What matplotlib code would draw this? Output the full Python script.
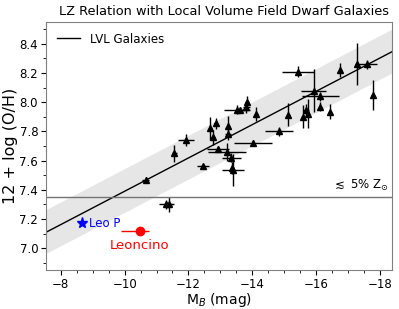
import numpy as np
import matplotlib.pyplot as plt
from matplotlib.ticker import MultipleLocator

# LVL galaxies: M_B, 12+log(O/H) and errors
mb = [-10.66, -11.55, -11.91, -12.46, -11.29, -11.39, -12.69, -12.77, -12.86,
      -12.93, -13.25, -13.24, -13.21, -13.35, -13.37, -13.40, -13.52, -13.63,
      -13.82, -13.85, -14.13, -14.03, -14.84, -15.13, -15.43, -15.58, -15.68,
      -15.75, -15.93, -16.14, -16.14, -16.43, -16.77, -17.28, -17.60, -17.78]
oh = [7.47, 7.65, 7.74, 7.56, 7.30, 7.30, 7.82, 7.76, 7.855,
      7.68, 7.835, 7.78, 7.66, 7.62, 7.55, 7.535, 7.95, 7.95,
      7.965, 8.00, 7.92, 7.72, 7.80, 7.915, 8.21, 7.90, 7.95,
      7.92, 8.08, 8.04, 7.97, 7.935, 8.22, 8.26, 8.26, 8.05]
mb_err = [0.10, 0.08, 0.25, 0.20, 0.20, 0.15, 0.05, 0.05, 0.05,
          0.35, 0.05, 0.10, 0.60, 0.30, 0.05, 0.35, 0.40, 0.10,
          0.10, 0.05, 0.05, 0.60, 0.45, 0.05, 0.50, 0.05, 0.10,
          0.05, 0.40, 0.58, 0.05, 0.05, 0.05, 0.05, 0.33, 0.05]
oh_err = [0.02, 0.06, 0.04, 0.02, 0.03, 0.05, 0.08, 0.05, 0.04,
          0.02, 0.07, 0.04, 0.06, 0.03, 0.04, 0.11, 0.03, 0.02,
          0.04, 0.04, 0.05, 0.02, 0.03, 0.08, 0.04, 0.08, 0.04,
          0.10, 0.15, 0.03, 0.03, 0.05, 0.05, 0.145, 0.03, 0.10]

# Leo P and Leoncino
leop_mb, leop_oh = -8.67, 7.17
leon_mb, leon_oh = -10.48, 7.12
leon_mb_err = [[0.28], [0.58]]

# LZ fit and scatter
fit_a, fit_b, fit_sig = 6.25, -0.114, 0.15
z5_level = 7.35

fig = plt.figure(figsize=(3.99, 3.09), dpi=100)
ax = fig.add_axes([0.115, 0.126, 0.867, 0.803])

xx = np.linspace(-6, -20, 50)
yy = fit_a + fit_b * xx
ax.fill_between(xx, yy - fit_sig, yy + fit_sig, color='#e6e6e6', lw=0)
ax.plot(xx, yy, color='k', lw=1, label='LVL Galaxies')

ax.errorbar(mb, oh, xerr=mb_err, yerr=oh_err, fmt='^', color='k', ms=4.5,
            elinewidth=1, capsize=0)

ax.axhline(z5_level, color='0.45', lw=1)
ax.text(-18.3, z5_level + 0.03, r'$\lesssim$ 5% Z$_{\odot}$', ha='right',
        va='bottom', fontsize=8.5)

ax.plot(leop_mb, leop_oh, '*', color='blue', ms=8)
ax.text(leop_mb - 0.22, leop_oh, 'Leo P', color='blue', fontsize=8.5,
        va='center', ha='left')
ax.errorbar(leon_mb, leon_oh, xerr=leon_mb_err, fmt='o', color='red', ms=6,
            elinewidth=1, capsize=0)
ax.text(leon_mb, leon_oh - 0.06, 'Leoncino', color='red', fontsize=9.5,
        va='top', ha='center')

ax.set_xlim(-7.53, -18.38)
ax.set_ylim(6.85, 8.55)
ax.xaxis.set_major_locator(MultipleLocator(2))
ax.xaxis.set_minor_locator(MultipleLocator(0.5))
ax.yaxis.set_major_locator(MultipleLocator(0.2))
ax.yaxis.set_minor_locator(MultipleLocator(0.1))
ax.tick_params(labelsize=8.5, pad=2)
for s in ax.spines.values():
    s.set_color('0.5')

ax.set_xlabel('M$_B$ (mag)', fontsize=10, labelpad=0)
ax.set_ylabel('12 + log (O/H)', fontsize=11.5, labelpad=1)
ax.set_title('LZ Relation with Local Volume Field Dwarf Galaxies', fontsize=9.3,
             x=0.514, pad=5)
ax.legend(loc='upper left', frameon=False, fontsize=8.5)

fig.savefig('out.png', dpi=100)
